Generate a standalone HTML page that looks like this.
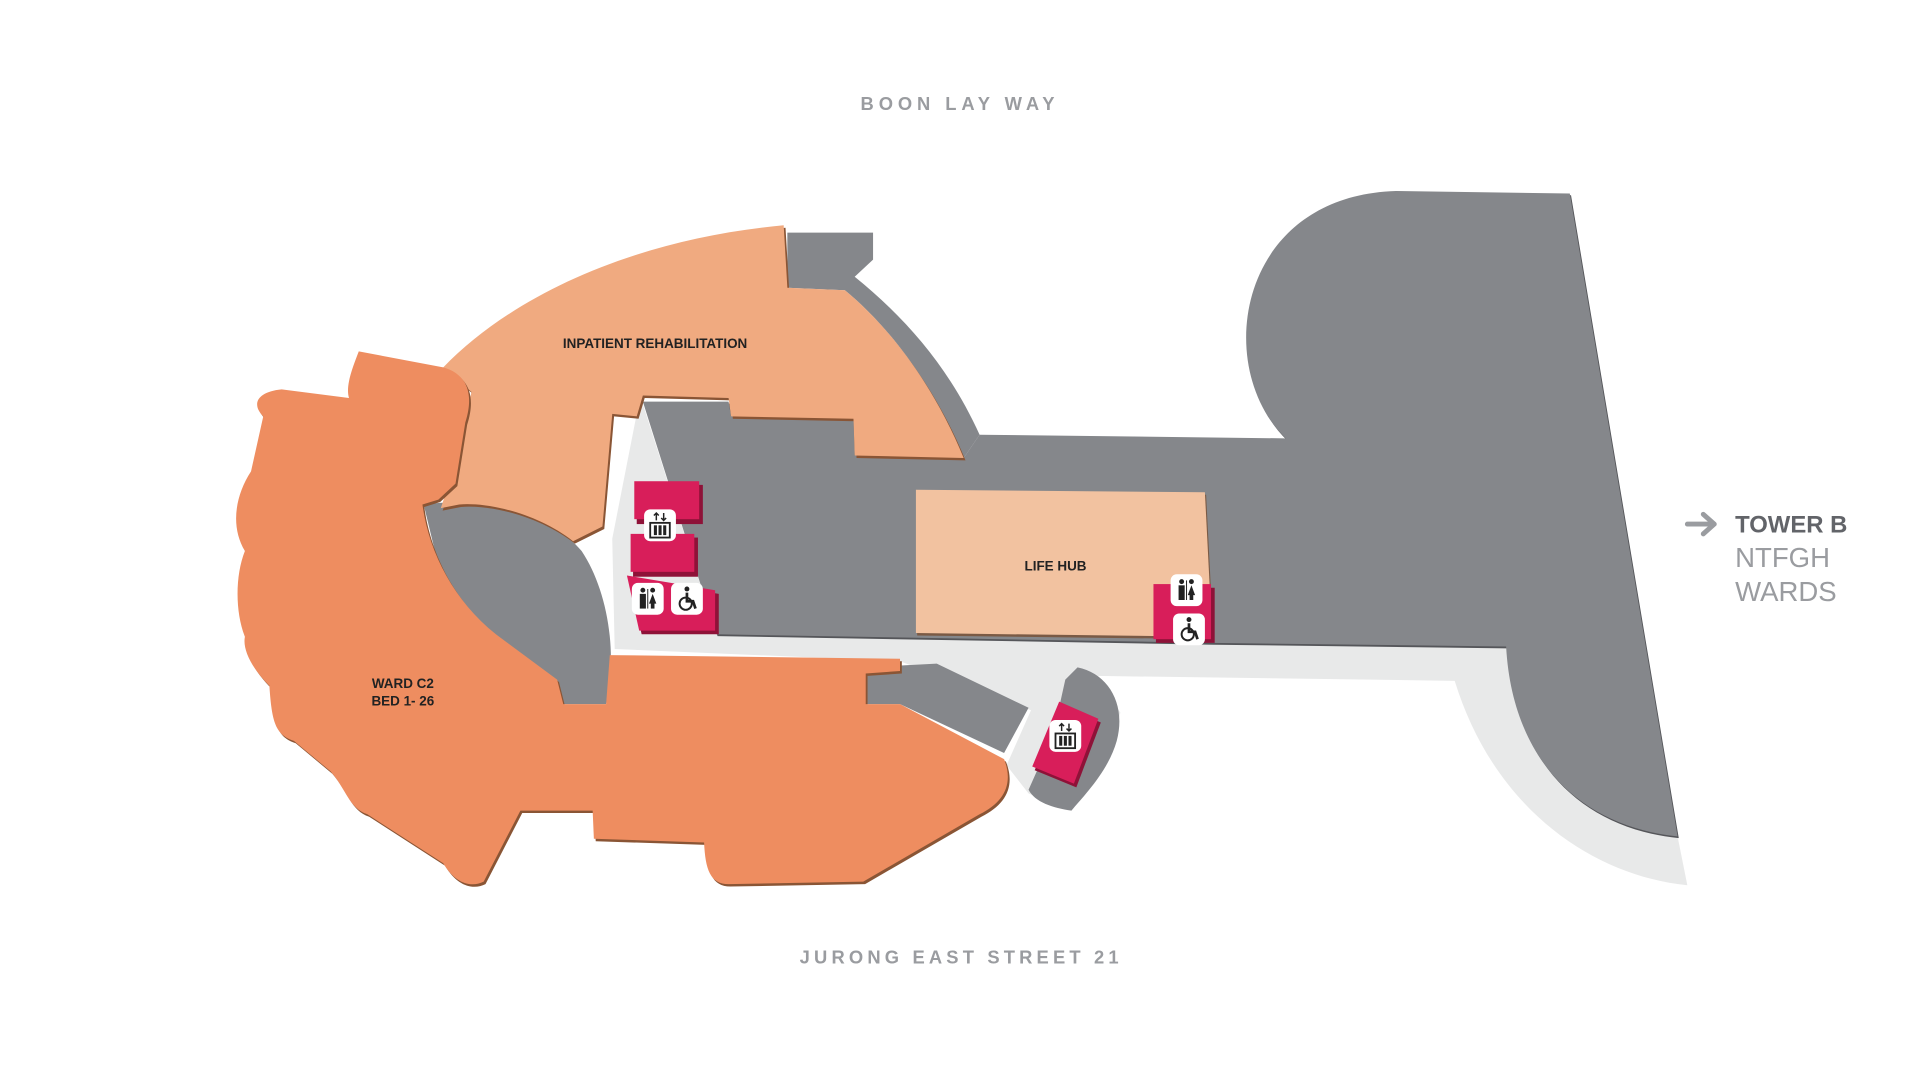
<!DOCTYPE html>
<html><head><meta charset="utf-8"><style>
html,body{margin:0;padding:0;background:#fff;width:1920px;height:1080px;overflow:hidden}
svg{display:block}
text{font-family:"Liberation Sans",sans-serif}
</style></head><body>
<svg width="1920" height="1080" viewBox="0 0 1568 882" preserveAspectRatio="none" xmlns="http://www.w3.org/2000/svg">
<defs>
<g id="icoE"><rect x="-13" y="-13" width="26" height="26" rx="5" fill="#fff"/><rect x="-8" y="-2" width="16" height="12" fill="none" stroke="#222" stroke-width="1.5"/><rect x="-5" y="0" width="2.5" height="8" fill="#222"/><rect x="-1.2" y="0" width="2.5" height="8" fill="#222"/><rect x="2.6" y="0" width="2.5" height="8" fill="#222"/><path d="M-3 -4 V-10 M-5 -8 L-3 -10 L-1 -8 M3 -10 V-4 M1 -6 L3 -4 L5 -6" stroke="#222" stroke-width="1.2" fill="none"/></g>
<g id="icoT"><rect x="-13" y="-13" width="26" height="26" rx="5" fill="#fff"/><circle cx="-4" cy="-7" r="2" fill="#222"/><rect x="-6.5" y="-4" width="5" height="12" fill="#222"/><circle cx="4" cy="-7" r="2" fill="#222"/><path d="M1 4 L4 -4 L7 4 Z" fill="#222"/><rect x="2.5" y="3" width="3" height="5" fill="#222"/><rect x="-0.4" y="-8" width="0.8" height="16" fill="#222"/></g>
<g id="icoW"><rect x="-13" y="-13" width="26" height="26" rx="5" fill="#fff"/><circle cx="0" cy="-8" r="2" fill="#222"/><path d="M0 -5 V2 H5 L7 8" stroke="#222" stroke-width="2.2" fill="none"/><circle cx="-1" cy="4" r="5" stroke="#222" stroke-width="1.6" fill="none"/></g>
</defs>
<path d="M520,338 L500,440 L502,530 L735,540 L842,580 L822,625 L840,648 L875,662 L900,630 L915,582 L895,552 L1188,556 C1220,660 1300,715 1378,723 L1370,683 C1290,670 1240,610 1230,528 L990,522 L585,518 L525,330 Z" fill="#e8e9e9"/>
<path d="M525,328 L595,328 L597,340 L697,342 L698,372 L787,374 L800,355 L1050,358 C990,300 1010,160 1140,156 L1282,158 L1370,683 C1290,675 1235,620 1230,528 L990,525 L585,518 Z" fill="#55565a" transform="translate(1,1.5)"/>
<path d="M525,328 L595,328 L597,340 L697,342 L698,372 L787,374 L800,355 L1050,358 C990,300 1010,160 1140,156 L1282,158 L1370,683 C1290,675 1235,620 1230,528 L990,525 L585,518 Z" fill="#85878b"/>
<path d="M643,190 L713,190 L713,212 L698,226 C740,260 775,300 800,355 L787,374 C765,320 730,270 690,237 L643,235 Z" fill="#85878b"/>
<path d="M707,545 L765,542 L840,578 L820,615 L735,575 L707,575 Z" fill="#85878b"/>
<path d="M880,545 C905,550 920,575 912,605 C905,630 885,650 875,662 C860,660 845,655 840,645 L860,600 L870,555 Z" fill="#85878b"/>
<path d="M346,412 C400,405 450,420 475,450 C495,480 505,530 495,575 L458,575 C420,540 380,510 360,470 Z" fill="#85878b"/>
<path d="M362,300 C420,240 520,195 640,184 L643,235 L690,237 C730,270 765,320 787,374 L698,372 L697,342 L597,340 L595,325 L525,323 L520,340 L500,338 L492,430 L468,442 C440,420 400,410 375,412 L360,415 L375,370 L385,320 Z" fill="#8a5535" transform="translate(1.5,2)"/>
<path d="M362,300 C420,240 520,195 640,184 L643,235 L690,237 C730,270 765,320 787,374 L698,372 L697,342 L597,340 L595,325 L525,323 L520,340 L500,338 L492,430 L468,442 C440,420 400,410 375,412 L360,415 L375,370 L385,320 Z" fill="#f0aa80"/>
<path d="M293,287 L362,300 C380,305 388,320 380,345 L372,395 L358,408 L345,412 C350,450 370,490 405,518 L455,555 L460,575 L495,575 L498,535 L735,538 L735,548 L707,550 L707,575 L735,575 L820,620 C828,640 820,655 800,665 L705,720 L595,722 C580,722 576,710 575,688 L485,685 L484,662 L425,662 L395,720 C385,725 372,722 362,705 L300,665 C285,660 283,645 270,630 L240,605 C225,600 222,590 220,560 C205,545 198,530 200,520 C192,500 192,470 200,450 C188,430 192,405 205,385 L215,340 C205,330 210,320 230,318 L285,325 C282,315 288,300 293,287 Z" fill="#8a5535" transform="translate(1.5,2)"/>
<path d="M293,287 L362,300 C380,305 388,320 380,345 L372,395 L358,408 L345,412 C350,450 370,490 405,518 L455,555 L460,575 L495,575 L498,535 L735,538 L735,548 L707,550 L707,575 L735,575 L820,620 C828,640 820,655 800,665 L705,720 L595,722 C580,722 576,710 575,688 L485,685 L484,662 L425,662 L395,720 C385,725 372,722 362,705 L300,665 C285,660 283,645 270,630 L240,605 C225,600 222,590 220,560 C205,545 198,530 200,520 C192,500 192,470 200,450 C188,430 192,405 205,385 L215,340 C205,330 210,320 230,318 L285,325 C282,315 288,300 293,287 Z" fill="#ee8d60"/>
<path d="M748,400 L984,402 L990,520 L748,517 Z" fill="#7a5a45" transform="translate(1,2)"/>
<path d="M748,400 L984,402 L990,520 L748,517 Z" fill="#f2c2a0"/>
<g fill="#8e1238">
<rect x="520" y="396" width="54" height="32"/><rect x="517" y="439" width="53" height="32"/><path d="M514,473 L587,485 L587,518 L524,518 Z"/><rect x="944" y="480" width="48" height="45"/><path d="M867,576 L899,590 L879,643 L845,629 Z"/>
</g>
<g fill="#d81e5a">
<rect x="518" y="393" width="53" height="31"/><rect x="515" y="436" width="52" height="31"/><path d="M512,470 L584,482 L584,515 L522,515 Z"/><rect x="942" y="477" width="47" height="45"/><path d="M865,573 L897,587 L877,640 L843,626 Z"/>
</g>
<use href="#icoE" x="539" y="429"/>
<use href="#icoT" x="529" y="489"/>
<use href="#icoW" x="561" y="489"/>
<use href="#icoT" x="969" y="482"/>
<use href="#icoW" x="971" y="514"/>
<use href="#icoE" x="870" y="601"/>
<text x="784" y="90" font-size="15" fill="#9a9ca0" text-anchor="middle" font-weight="bold" letter-spacing="4">BOON LAY WAY</text>
<text x="785" y="787" font-size="15" fill="#9a9ca0" text-anchor="middle" font-weight="bold" letter-spacing="3.4">JURONG EAST STREET 21</text>
<text x="535" y="284" font-size="11" fill="#222" text-anchor="middle" font-weight="bold">INPATIENT REHABILITATION</text>
<text x="862" y="466" font-size="11" fill="#222" text-anchor="middle" font-weight="bold">LIFE HUB</text>
<text x="329" y="562" font-size="11" fill="#222" text-anchor="middle" font-weight="bold">WARD C2</text>
<text x="329" y="576" font-size="11" fill="#222" text-anchor="middle" font-weight="bold">BED 1- 26</text>
<path d="M1378,428 H1400 M1391,420 L1400,428 L1391,436" stroke="#9a9ca0" stroke-width="4" fill="none" stroke-linecap="round" stroke-linejoin="round"/>
<text x="1417" y="435" font-size="19.5" fill="#626469" font-weight="bold">TOWER B</text>
<text x="1417" y="463" font-size="22.5" fill="#9a9ca0">NTFGH</text>
<text x="1417" y="491" font-size="22.5" fill="#9a9ca0">WARDS</text>
</svg>
</body></html>
